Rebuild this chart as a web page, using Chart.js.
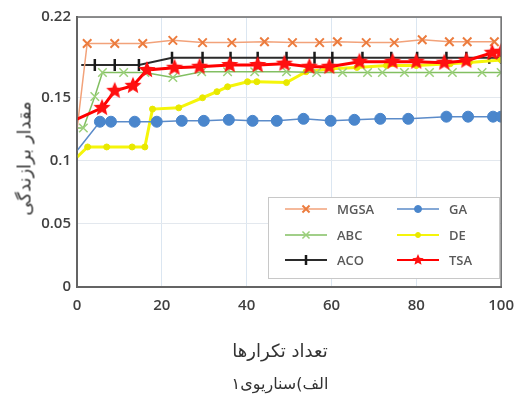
<!DOCTYPE html>
<html>
<head>
<meta charset="utf-8">
<script src="https://cdn.jsdelivr.net/npm/chart.js@4.4.1/dist/chart.umd.min.js"></script>
<style>
  body { margin: 0; background: #fff; }
  #wrap { position: relative; width: 524px; height: 396px; overflow: hidden; }
  .fa { position: absolute; font-family: "DejaVu Sans", sans-serif; color: #333; white-space: nowrap; direction: rtl; }
  #xtitle { left: 180px; width: 200px; top: 340px; text-align: center; font-size: 18px; }
  #sub { left: 180px; width: 200px; top: 374px; text-align: center; font-size: 16px; }
  #ytitle { left: -76px; top: 148px; width: 200px; text-align: center; font-size: 18px; transform: rotate(-90deg); }
</style>
</head>
<body>
<div id="wrap">
  <canvas id="myChart" width="524" height="396"></canvas>
  <div class="fa" id="ytitle">مقدار برازندگی</div>
  <div class="fa" id="xtitle">تعداد تکرارها</div>
  <div class="fa" id="sub">الف)سناریوی۱</div>
</div>
<script>
// values
var seriesNames = ['MGSA', 'GA', 'ABC', 'DE', 'ACO', 'TSA'];

var mgsaX = [0, 2.4, 8.9, 15.5, 22.6, 29.6, 36.5, 44.2, 50.8, 57.2, 61.4, 68.2, 74.8, 81.4, 87.8, 92, 98.4];
var mgsaY = [0.125, 0.193, 0.193, 0.193, 0.1955, 0.1937, 0.1937, 0.1944, 0.1937, 0.1937, 0.1944, 0.1937, 0.1937, 0.196, 0.1944, 0.1944, 0.1944];

var gaX = [0, 5.4, 8, 13.6, 18.8, 24.7, 29.9, 35.8, 41.4, 47.1, 53.4, 59.8, 65.4, 71.5, 78.1, 87.1, 92.2, 98.1, 100];
var gaY = [0.108, 0.131, 0.131, 0.131, 0.131, 0.1317, 0.1317, 0.1325, 0.1317, 0.1317, 0.1333, 0.1317, 0.1325, 0.1333, 0.1333, 0.135, 0.135, 0.135, 0.135];

var abcX = [0, 1.5, 4.2, 6, 11, 16, 22.6, 29.4, 35.5, 41.9, 49.4, 56.5, 62.6, 68.5, 72, 77.2, 83.1, 88.5, 95.5, 100];
var abcY = [0.126, 0.126, 0.151, 0.170, 0.170, 0.170, 0.166, 0.1706, 0.1706, 0.1706, 0.1706, 0.170, 0.170, 0.170, 0.170, 0.170, 0.170, 0.170, 0.170, 0.170];

var deX = [0, 2.5, 7, 13, 16, 17.8, 24, 29.6, 33, 35.5, 40.2, 42.4, 49.4, 54, 60, 66, 73, 80, 88, 92.5, 100];
var deY = [0.103, 0.111, 0.111, 0.111, 0.111, 0.141, 0.142, 0.150, 0.1548, 0.1587, 0.1627, 0.1627, 0.162, 0.1706, 0.173, 0.174, 0.1755, 0.1755, 0.177, 0.178, 0.180];

var acoX = [1, 4.2, 8.9, 14.6, 22.4, 29.6, 36.2, 42.6, 49.4, 56, 60.2, 67.3, 74.1, 80.2, 87.1, 91.8, 97.2, 100];
var acoY = [0.176, 0.176, 0.176, 0.176, 0.1817, 0.1817, 0.1817, 0.1817, 0.1817, 0.1817, 0.1817, 0.1817, 0.1817, 0.1817, 0.1817, 0.1817, 0.1817, 0.1817];

var tsaX = [0, 5.9, 8.9, 13.2, 16.5, 23, 28.9, 36, 42.6, 48.9, 54.8, 59.5, 66.6, 74.4, 80, 86.6, 91.8, 97.9, 100];
var tsaY = [0.133, 0.142, 0.1555, 0.1595, 0.172, 0.1738, 0.1746, 0.176, 0.176, 0.177, 0.1746, 0.1746, 0.1786, 0.1786, 0.1786, 0.1778, 0.1794, 0.1857, 0.1865];

var xTicks = [0, 20, 40, 60, 80, 100];
var yTicks = [0, 0.05, 0.1, 0.15, 0.214];
var yTickLabels = ['0', '0.05', '0.1', '0.15', '0.22'];

function pts(xs, ys) {
    return xs.map(function (x, i) { return { x: x, y: ys[i] }; });
}

// filled star for TSA markers
function makeStar(r, color) {
    var c = document.createElement('canvas');
    c.width = r * 2 + 2;
    c.height = r * 2 + 2;
    var g = c.getContext('2d');
    g.translate(r + 1, r + 1);
    g.beginPath();
    for (var i = 0; i < 10; i++) {
        var rad = i % 2 === 0 ? r : r * 0.45;
        var a = -Math.PI / 2 + i * Math.PI / 5;
        g.lineTo(Math.cos(a) * rad, Math.sin(a) * rad);
    }
    g.closePath();
    g.fillStyle = color;
    g.fill();
    return c;
}
var star = makeStar(9, '#ff1010');
var smallStar = makeStar(6, '#ff1010');

var styles = [
    { line: '#f2a27a', marker: '#ec7c3e', width: 1.5, pointStyle: 'crossRot', radius: 6, pw: 2 },
    { line: '#5b8bc9', marker: '#4a86cc', width: 1.5, pointStyle: 'circle', radius: 5.5, pw: 1, fill: '#4a86cc' },
    { line: '#82bf62', marker: '#9bd07a', width: 1.5, pointStyle: 'crossRot', radius: 6, pw: 1.5 },
    { line: '#f5f50a', marker: '#e8e800', width: 3, pointStyle: 'circle', radius: 3, pw: 1, fill: '#e8e800' },
    { line: '#2b2b2b', marker: '#1a1a1a', width: 2, pointStyle: 'line', radius: 6, pw: 2.5, rotation: 90 },
    { line: '#ff0000', marker: '#ff1010', width: 3, pointStyle: star, radius: 9, pw: 1 }
];

var allData = [pts(mgsaX, mgsaY), pts(gaX, gaY), pts(abcX, abcY), pts(deX, deY), pts(acoX, acoY), pts(tsaX, tsaY)];
var drawOrder = [1, 2, 3, 4, 5, 0];

var datasets = seriesNames.map(function (name, i) {
    var s = styles[i];
    return {
        label: name,
        data: allData[i],
        borderColor: s.line,
        borderWidth: s.width,
        pointStyle: s.pointStyle,
        // first point of every curve has no marker
        pointRadius: function (c) { return c.dataIndex === 0 ? 0 : s.radius; },
        pointHoverRadius: s.radius,
        pointBorderColor: s.marker,
        pointBackgroundColor: s.fill || s.marker,
        pointBorderWidth: s.pw,
        pointRotation: s.rotation || 0,
        tension: 0,
        order: drawOrder[i]
    };
});

var frameAndLegend = {
    id: 'frameAndLegend',
    afterDraw: function (chart) {
        var ctx = chart.ctx;
        var a = chart.chartArea;
        ctx.save();
        ctx.strokeStyle = '#6a6a6a';
        ctx.lineWidth = 1.5;
        ctx.strokeRect(a.left, a.top, a.right - a.left, a.bottom - a.top);

        // legend box inside the plot
        var bx = 268, by = 197, bw = 231, bh = 81;
        ctx.fillStyle = '#ffffff';
        ctx.fillRect(bx, by, bw, bh);
        ctx.strokeStyle = '#c8c8c8';
        ctx.lineWidth = 1;
        ctx.strokeRect(bx + 0.5, by + 0.5, bw, bh);
        ctx.font = '600 13px "Open Sans"';
        ctx.textBaseline = 'middle';
        var cols = [285, 397];
        var rows = [209, 235, 260];
        seriesNames.forEach(function (name, i) {
            var s = styles[i];
            var x0 = cols[i % 2], y0 = rows[Math.floor(i / 2)];
            var len = 42;
            ctx.strokeStyle = s.line;
            ctx.lineWidth = Math.min(s.width, 2);
            ctx.beginPath();
            ctx.moveTo(x0, y0);
            ctx.lineTo(x0 + len, y0);
            ctx.stroke();
            ctx.strokeStyle = s.marker;
            ctx.fillStyle = s.fill || s.marker;
            ctx.lineWidth = s.pw;
            Chart.helpers.drawPoint(ctx, {
                pointStyle: i === 5 ? smallStar : s.pointStyle,
                rotation: s.rotation || 0,
                radius: i === 3 ? 2.5 : (i === 1 ? 3.5 : 5),
                borderWidth: s.pw
            }, x0 + len / 2, y0);
            ctx.fillStyle = '#595959';
            ctx.fillText(name, x0 + len + 10, y0 + 1);
        });
        ctx.restore();
    }
};

function createChart() {
    var ctx = document.getElementById('myChart');
    new Chart(ctx, {
        type: 'line',
        data: { datasets: datasets },
        options: {
            responsive: false,
            animation: false,
            layout: { padding: { top: 17, right: 21, left: 0, bottom: 0 } },
            plugins: {
                legend: { display: false },
                tooltip: { enabled: false }
            },
            scales: {
                x: {
                    type: 'linear',
                    min: 0,
                    max: 100,
                    afterBuildTicks: function (s) { s.ticks = xTicks.map(function (v) { return { value: v }; }); },
                    afterFit: function (s) { s.height = 109; },
                    grid: { color: '#dbe6f1', drawTicks: false },
                    border: { color: '#555555', width: 2 },
                    ticks: {
                        padding: 10,
                        color: '#404040',
                        font: { family: 'Open Sans', size: 15, weight: '600' }
                    }
                },
                y: {
                    min: 0,
                    max: 0.214,
                    afterBuildTicks: function (s) { s.ticks = yTicks.map(function (v) { return { value: v }; }); },
                    afterFit: function (s) { s.width = 77; },
                    grid: { color: '#e3e8ee', drawTicks: false },
                    border: { color: '#555555', width: 2 },
                    ticks: {
                        padding: 6,
                        color: '#404040',
                        font: { family: 'Open Sans', size: 15, weight: '600' },
                        callback: function (v, i) { return yTickLabels[i]; }
                    }
                }
            }
        },
        plugins: [frameAndLegend]
    });
}
createChart();
</script>
</body>
</html>
